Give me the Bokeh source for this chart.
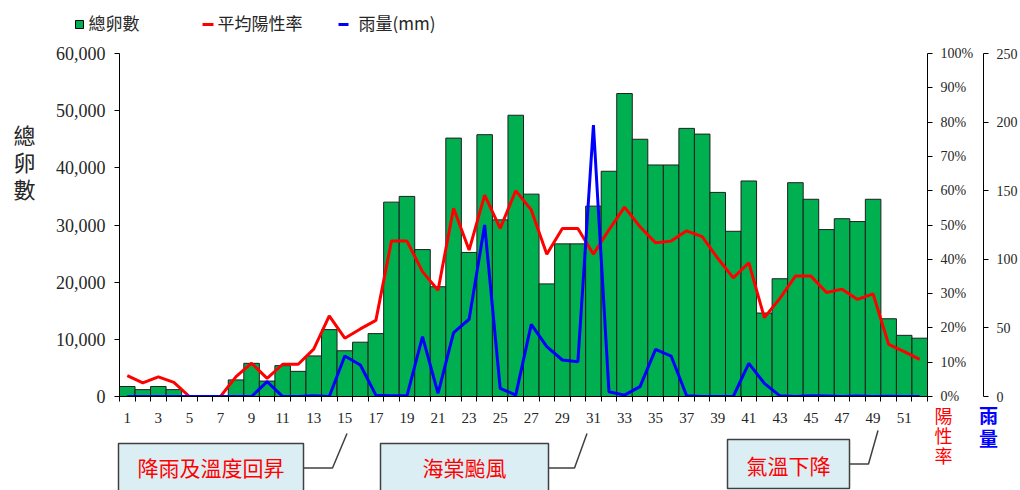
from bokeh.plotting import figure
from bokeh.models import (Range1d, LinearAxis, FixedTicker, NumeralTickFormatter,
                          PrintfTickFormatter, Column)
from bokeh.core.properties import value
from bokeh.embed import file_html
from bokeh.resources import INLINE

# ---------------- data ----------------
weeks = list(range(1, 53))
eggs = [1750, 1200, 1750, 1200, 0, 0, 0, 2900, 5800, 2700, 5400, 4400, 7100, 11700, 8000, 9500, 11000,
        34000, 35000, 25700, 19200, 45200, 25200, 45800, 30900, 49200, 35400, 19700, 26700, 26700, 33300,
        39400, 53000, 45000,
        40500, 40500, 46900, 45900, 35700, 28900, 37700, 14600, 20600, 37400, 34500, 29200, 31100, 30600,
        34500, 13600, 10700, 10200]
positive_rate = [6.1, 4.0, 5.7, 4.1, 0, 0, 0, 5.8, 9.7, 5.3, 9.4, 9.4, 13.8, 23.5, 17.0, 19.7, 22.2,
                 45.3, 45.3, 36.4, 31.0, 54.9, 42.7, 58.7, 49.0, 60.0, 54.4, 41.5, 49.0, 49.0, 41.5,
                 48.6, 55.2, 49.5, 44.8, 45.3, 48.3, 46.6, 40.3, 34.6, 39.0, 23.0, 28.6, 35.1, 35.1,
                 30.3, 31.3, 28.3, 29.9, 15.2, 13.1, 10.8]
rainfall = [0, 0, 0, 0, 0, 0, 0, 0, 0, 10.8, 0, 0, 0.5, 0, 29.5, 23.0, 1.0,
            0.5, 0.5, 43.6, 2.3, 46.5, 56.3, 125.0, 6.0, 1.0, 52.6, 36.3, 26.6, 25.4, 197.9,
            3.5, 1.0, 7.2, 34.4, 29.5, 0.5, 0, 0, 0, 24.2, 9.6, 0.5, 0, 0.5, 0.3, 0, 0.3, 0, 0.2, 0, 0]
x_tick_labels = list(range(1, 53, 2))
egg_ticks = list(range(0, 60001, 10000))
pct_ticks = list(range(0, 101, 10))
rain_ticks = list(range(0, 251, 50))
series_names = ["總卵數", "平均陽性率", "雨量(mm)"]
left_title = "總卵數"
rate_title = "陽性率"
rain_title = "雨量"
events = ["降雨及溫度回昇", "海棠颱風", "氣溫下降"]
event_weeks = [15, 31, 49]

CJK = "Noto Sans CJK TC"
SERIF = "Liberation Serif"
TXT = "#262626"
GREEN, RED, BLUE = "#00B050", "#FF0000", "#0000FF"
W, H = 1020, 490

# ================= main chart =================
p = figure(width=W, height=H, output_backend="svg", toolbar_location=None,
           x_range=Range1d(0.5, 52.5), y_range=Range1d(0, 60000),
           x_axis_type=None, y_axis_type=None,
           min_border_left=119, min_border_right=92, min_border_top=53, min_border_bottom=94)
p.extra_y_ranges = {"pct": Range1d(0, 100), "rain": Range1d(0, 250)}
p.outline_line_color = None

xaxis = LinearAxis(ticker=FixedTicker(ticks=x_tick_labels,
                                      minor_ticks=[w - 0.5 for w in weeks] + [52.5]))
xaxis.major_tick_in = 0
xaxis.major_tick_out = 0
xaxis.minor_tick_in = 0
xaxis.minor_tick_out = 5
xaxis.minor_tick_line_color = "black"
xaxis.axis_line_color = "black"
xaxis.major_label_text_font = SERIF
xaxis.major_label_text_font_size = "15px"
xaxis.major_label_text_color = TXT
xaxis.major_label_standoff = 11
p.add_layout(xaxis, "below")

yaxis = LinearAxis(ticker=FixedTicker(ticks=egg_ticks, minor_ticks=[]),
                   formatter=NumeralTickFormatter(format="0,0"))
yaxis.major_tick_in = 0
yaxis.major_tick_out = 5
yaxis.axis_line_color = "black"
yaxis.major_label_text_font = SERIF
yaxis.major_label_text_font_size = "18px"
yaxis.major_label_text_color = TXT
yaxis.major_label_standoff = 9
p.add_layout(yaxis, "left")

pct_axis = LinearAxis(y_range_name="pct", ticker=FixedTicker(ticks=pct_ticks, minor_ticks=[]),
                      formatter=PrintfTickFormatter(format="%d%%\u00a0\u00a0"))
rain_axis = LinearAxis(y_range_name="rain", ticker=FixedTicker(ticks=rain_ticks, minor_ticks=[]))
for ax in (pct_axis, rain_axis):
    ax.major_tick_in = 0
    ax.major_tick_out = 5
    ax.axis_line_color = "black"
    ax.major_label_text_font = SERIF
    ax.major_label_text_font_size = "14px"
    ax.major_label_text_color = TXT
pct_axis.major_label_standoff = 8
rain_axis.major_label_standoff = 8
p.add_layout(pct_axis, "right")
p.add_layout(rain_axis, "right")

p.vbar(x=weeks, top=eggs, width=1, fill_color=GREEN, line_color="#1f1f1f", line_width=1)
p.line(weeks, positive_rate, y_range_name="pct", line_color=RED, line_width=3)
p.line(weeks, rainfall, y_range_name="rain", line_color=BLUE, line_width=3)

# ================= overlay layer (legend, titles, callouts) in page pixels =================
ov = figure(width=W, height=H, output_backend="svg", toolbar_location=None,
            x_range=Range1d(0, W), y_range=Range1d(H, 0),
            x_axis_type=None, y_axis_type=None, min_border=0)
ov.outline_line_color = None
ov.background_fill_alpha = 0
ov.border_fill_alpha = 0

# legend
ov.quad(left=[75], right=[83], top=[20], bottom=[28], fill_color=GREEN, line_color="black", line_width=1)
ov.segment(x0=[202, 338], y0=[24, 24], x1=[213, 348], y1=[24, 24], line_color=[RED, BLUE], line_width=3)
ov.text(x=[88, 217, 358], y=[22, 22, 22], text=series_names, text_font=value(CJK),
        text_font_size="17px", text_color=TXT, text_baseline="middle", text_align="left")

# axis titles (stacked vertically, one character per line)
ov.text(x=[24] * 3, y=[133, 160, 187], text=list(left_title), text_font=value(CJK),
        text_font_size="22px", text_color=TXT, text_align="center", text_baseline="middle")
ov.text(x=[943] * 3, y=[414, 434, 454], text=list(rate_title), text_font=value(CJK),
        text_font_size="18px", text_color=RED, text_align="center", text_baseline="middle")
ov.text(x=[988] * 2, y=[414, 437], text=list(rain_title), text_font=value(CJK),
        text_font_size="19px", text_color=BLUE, text_align="center", text_baseline="middle",
        text_font_style="bold")

# event call-outs
ov.multi_line(xs=[[303, 332, 346.5], [548, 574, 586.5], [849, 868, 877.5]],
              ys=[[467.5, 467.5, 433], [467.5, 467.5, 433], [463.5, 463.5, 430]],
              line_color="#404040", line_width=1.5)
ov.quad(left=[118, 380, 727], right=[303, 548, 849], top=[443, 443, 439], bottom=[492, 492, 488],
        fill_color="#DBEEF4", line_color="#404040", line_width=1.5)
ov.text(x=[210.5, 464, 788], y=[466, 466, 464], text=events, text_font=value(CJK),
        text_font_size="21px", text_color=RED, text_align="center", text_baseline="middle")

# stack the overlay on top of the chart without aligning its frame to the chart's frame
if "frame_align" in ov.properties():
    ov.frame_align = False
    ov.margin = (-H, 0, 0, 0)
    layout = Column(children=[p, ov])
else:
    layout = Column(children=[p, Column(children=[ov], margin=(-H, 0, 0, 0))])

open("out.html", "w").write(file_html(layout, INLINE))
